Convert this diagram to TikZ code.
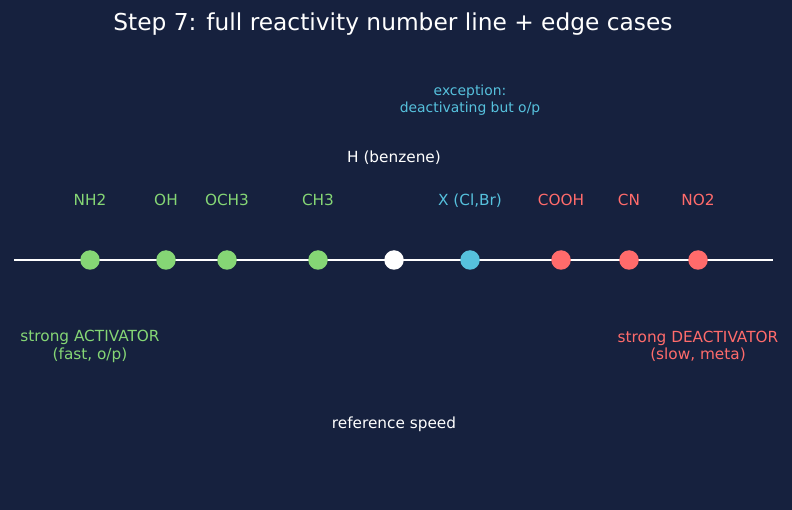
\documentclass[tikz,border=0pt]{standalone}
\usepackage{fontspec}
\setmainfont{DejaVu Sans}
\definecolor{bg}{RGB}{22,33,62}
\definecolor{grn}{RGB}{133,214,117}
\definecolor{rd}{RGB}{255,107,107}
\definecolor{cy}{RGB}{86,193,221}
\tikzset{
  dot/.style={circle,inner sep=0pt,minimum size=19.5pt,fill=#1},
  lab/.style={text=#1,font=\fontsize{15.3}{18}\selectfont,inner sep=0pt,anchor=base},
  small/.style={text=#1,font=\fontsize{13.9}{17}\selectfont,inner sep=0pt,align=center},
  two/.style={text=#1,font=\fontsize{15.3}{17.5}\selectfont,inner sep=0pt,align=center}
}
\begin{document}
\begin{tikzpicture}[x=1pt,y=-1pt]
\fill[bg] (0,0) rectangle (792,510);
\useasboundingbox (0,0) rectangle (792,510);
\node[text=white,font=\fontsize{23.3}{27}\selectfont,inner sep=0pt] (title) at (393,24) {Step 7: full reactivity number line + edge cases};
\coordinate (L) at (14,260);
\coordinate (R) at (773,260);
\draw[white,line width=2.5pt] (L) -- (R);
\node[dot=grn] (nh2) at (90,260) {};
\node[dot=grn] (oh) at (166,260) {};
\node[dot=grn] (och3) at (227,260) {};
\node[dot=grn] (ch3) at (318,260) {};
\node[dot=white] (h) at (394,260) {};
\node[dot=cy] (x) at (470,260) {};
\node[dot=rd] (cooh) at (561,260) {};
\node[dot=rd] (cn) at (629,260) {};
\node[dot=rd] (no2) at (698,260) {};
\node[lab=grn] (lnh2) at (90,205.5) {NH2};
\node[lab=grn] (loh) at (166,205.5) {OH};
\node[lab=grn] (loch3) at (227,205.5) {OCH3};
\node[lab=grn] (lch3) at (318,205.5) {CH3};
\node[lab=white] (lh) at (394,162.5) {H (benzene)};
\node[lab=cy] (lx) at (470,205.5) {X (Cl,Br)};
\node[lab=rd] (lcooh) at (561,205.5) {COOH};
\node[lab=rd] (lcn) at (629,205.5) {CN};
\node[lab=rd] (lno2) at (698,205.5) {NO2};
\node[small=cy] (exc) at (470,100.5) {exception:\\deactivating but o/p};
\node[two=grn] (act) at (90,346.5) {strong ACTIVATOR\\(fast, o/p)};
\node[two=rd] (deact) at (698,346.5) {strong DEACTIVATOR\\(slow, meta)};
\node[lab=white] (ref) at (394,428.5) {reference speed};
\end{tikzpicture}
\end{document}
